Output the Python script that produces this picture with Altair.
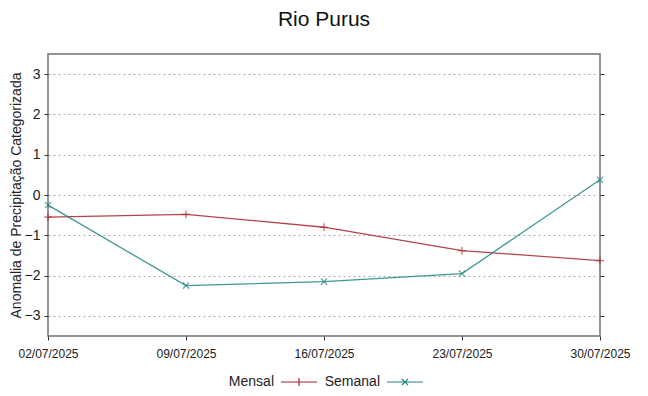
import altair as alt
import pandas as pd

dates = ["2025-07-02", "2025-07-09", "2025-07-16", "2025-07-23", "2025-07-30"]
mensal = [-0.55, -0.48, -0.80, -1.38, -1.63]
semanal = [-0.25, -2.25, -2.15, -1.95, 0.38]
series = ["Mensal", "Semanal"]
colors = ["#a8232a", "#1f8585"]
y_ticks = [-3, -2, -1, 0, 1, 2, 3]

rows = []
for d, m, s in zip(dates, mensal, semanal):
    rows.append({"data": d, "valor": m, "serie": "Mensal"})
    rows.append({"data": d, "valor": s, "serie": "Semanal"})
df = pd.DataFrame(rows)

FONT = "Liberation Sans"

x = alt.X(
    "data:T",
    scale=alt.Scale(domain=["2025-07-02T00:00:00", "2025-07-30T00:00:00"], nice=False),
    axis=alt.Axis(
        title=None,
        values=[pd.Timestamp(d).isoformat() for d in dates],
        format="%d/%m/%Y",
        grid=False,
        labelFontSize=12,
        labelColor="#222222",
        labelPadding=8,
        tickColor="#333333",
        tickSize=4,
        domain=False,
        labelFlush=False,
    ),
)
y_scale = alt.Scale(domain=[-3.5, 3.5], nice=False, zero=False)
y = alt.Y(
    "valor:Q",
    scale=y_scale,
    axis=alt.Axis(
        title="Anomalia de Precipitação Categorizada",
        titleFontSize=14,
        titleFontWeight="normal",
        titleColor="#222222",
        titlePadding=1,
        values=y_ticks,
        labelFontSize=14,
        labelColor="#222222",
        labelPadding=4,
        grid=True,
        gridDash=[2, 3],
        gridColor="#aaaaaa",
        tickColor="#333333",
        tickSize=4,
        domain=False,
    ),
)
y_plain = alt.Y("valor:Q", scale=y_scale, axis=None)
y_right = alt.Y(
    "valor:Q",
    scale=y_scale,
    axis=alt.Axis(
        orient="right", title=None, labels=False, values=y_ticks, grid=False,
        tickColor="#333333", tickSize=4, domain=False,
    ),
)

color_scale = alt.Scale(domain=series, range=colors)

lines = alt.Chart(df).mark_line(strokeWidth=1.3, opacity=0.85).encode(
    x=x, y=y,
    color=alt.Color("serie:N", scale=color_scale, legend=None),
    detail="serie:N",
)

points = alt.Chart(df).mark_point(size=60, strokeWidth=1.2, filled=False).encode(
    x=x, y=y_plain,
    color=alt.Color("serie:N", scale=color_scale, legend=None),
    shape=alt.Shape(
        "serie:N",
        scale=alt.Scale(domain=series, range=["M-1,0L1,0M0,-1L0,1", "M-0.8,-0.8L0.8,0.8M-0.8,0.8L0.8,-0.8"]),
        legend=None,
    ),
)

legend_layer = alt.Chart(df).mark_point(opacity=0, filled=False).encode(
    x=x,
    y=y_right,
    color=alt.Color(
        "serie:N",
        scale=alt.Scale(domain=series, range=colors),
        legend=alt.Legend(
            title=None,
            orient="none",
            legendX=232,
            legendY=309,
            direction="horizontal",
            labelFontSize=14,
            labelColor="#222222",
            symbolSize=1300,
            symbolStrokeWidth=1.2,
            symbolOpacity=1,
            labelAlign="right",
            labelOffset={"expr": "-44"},
            columnPadding=4,
            padding=0,
        ),
    ),
    shape=alt.Shape(
        "serie:N",
        scale=alt.Scale(
            domain=series,
            range=[
                "M-1,0L1,0M0,-0.22L0,0.22",
                "M-1,0L1,0M-0.17,-0.17L0.17,0.17M-0.17,0.17L0.17,-0.17",
            ],
        ),
    ),
)

chart = (
    alt.layer(lines, points, legend_layer)
    .resolve_scale(color="independent", shape="independent", y="independent")
    .properties(
        width=552,
        height=282,
        title=alt.TitleParams("Rio Purus", fontSize=21, fontWeight="normal", font=FONT, color="#111111", offset=24),
        autosize=alt.AutoSizeParams(type="none"),
        padding={"left": 40, "top": 46, "right": 40, "bottom": 52},
    )
    .configure(font=FONT)
    .configure_view(stroke="#707070", strokeWidth=1.5)
)

chart.save("out.html", embed_options={"renderer": "svg", "actions": False})
